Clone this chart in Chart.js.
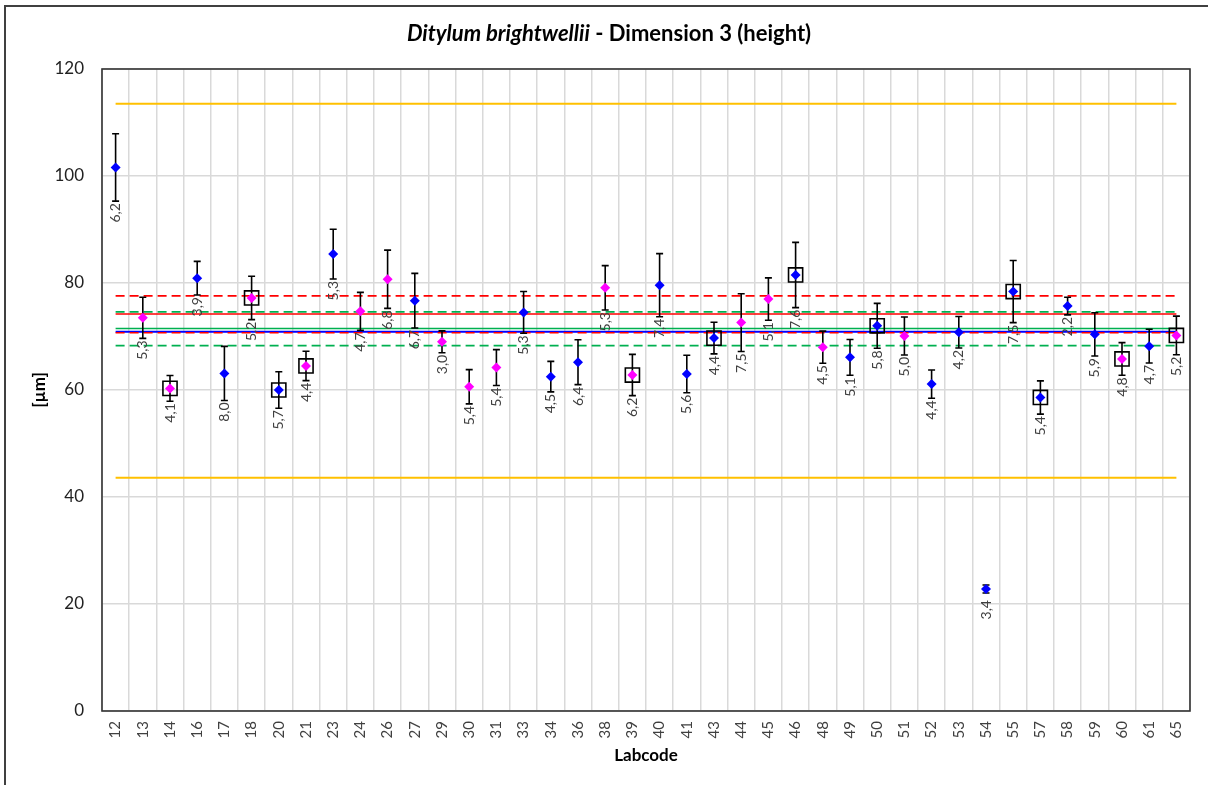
<!DOCTYPE html>
<html>
<head>
<meta charset="utf-8">
<script src="https://cdn.jsdelivr.net/npm/chart.js@4.4.0/dist/chart.umd.min.js"></script>
<style>
  html, body { margin: 0; padding: 0; background: #fff; }
  #wrap { width: 1208px; height: 785px; position: relative; }
</style>
</head>
<body>
<div id="wrap"><canvas id="chart" width="1208" height="785"></canvas></div>
<script>
// Labcodes on the x axis
const labcodes = ['12','13','14','16','17','18','20','21','23','24','26','27','29','30','31','33','34','36','38','39',
                  '40','41','43','44','45','46','48','49','50','51','52','53','54','55','57','58','59','60','61','65'];

// mean height per lab (µm)
const means = [101.6, 73.5, 60.3, 80.9, 63.1, 77.2, 60.0, 64.5, 85.4, 74.7, 80.7, 76.7, 69.0, 60.6, 64.2, 74.5, 62.5, 65.2, 79.1, 62.8,
               79.6, 63.0, 69.7, 72.6, 77.0, 81.5, 68.0, 66.1, 72.0, 70.1, 61.1, 70.8, 22.8, 78.4, 58.6, 75.7, 70.4, 65.8, 68.2, 70.2];

// standard deviation (error bar half length)
const sds = [6.3, 3.85, 2.4, 3.15, 5.05, 4.05, 3.4, 2.75, 4.65, 3.55, 5.45, 5.1, 2.05, 3.2, 3.35, 3.9, 2.85, 4.2, 4.15, 3.85,
             5.9, 3.5, 2.95, 5.4, 3.95, 6.1, 3.0, 3.35, 4.2, 3.55, 2.65, 2.95, 0.75, 5.8, 3.1, 1.65, 4.05, 3.05, 3.15, 3.6];

// CV labels printed under each bar
const cvLabels = ['6,2','5,3','4,1','3,9','8,0','5,2','5,7','4,4','5,3','4,7','6,8','6,7','3,0','5,4','5,4','5,3','4,5','6,4','5,3','6,2',
                  '7,4','5,6','4,4','7,5','5,1','7,6','4,5','5,1','5,8','5,0','4,4','4,2','3,4','7,5','5,4','2,2','5,9','4,8','4,7','5,2'];

// labs drawn in magenta, and labs with a square around the point
const magentaLabs = ['13','14','18','21','24','26','29','30','31','38','39','44','45','48','51','60','65'];
const boxedLabs = ['14','18','20','21','39','43','46','50','55','57','60','65'];

// horizontal reference lines
const yellowHigh = 113.5;
const yellowLow = 43.6;
const redMean = 74.2;
const redHigh = 77.6;
const redLow = 70.7;
const greenMean = 71.5;
const greenHigh = 74.6;
const greenLow = 68.3;
const blueMean = 70.9;

const yTicks = [0, 20, 40, 60, 80, 100, 120];

const FONT = 'Lato, "Open Sans", sans-serif';
const flat = v => labcodes.map(() => v);
const refLine = (v, color, dash, width) => ({
  data: flat(v), borderColor: color, borderWidth: width || 1.5, borderDash: dash || [],
  pointRadius: 0, fill: false, order: 10
});

const errorBars = {
  id: 'errorBars',
  beforeDatasetDraw(chart, args) {
    if (args.index !== 0) return;
    const ctx = chart.ctx, x = chart.scales.x, y = chart.scales.y;
    ctx.save();
    ctx.strokeStyle = '#000';
    ctx.lineWidth = 1.6;
    means.forEach((m, i) => {
      const px = x.getPixelForValue(i);
      const top = y.getPixelForValue(m + sds[i]);
      const bot = y.getPixelForValue(m - sds[i]);
      ctx.beginPath();
      ctx.moveTo(px, top); ctx.lineTo(px, bot);
      ctx.moveTo(px - 3.5, top); ctx.lineTo(px + 3.5, top);
      ctx.moveTo(px - 3.5, bot); ctx.lineTo(px + 3.5, bot);
      ctx.stroke();
    });
    ctx.restore();
  },
  afterDatasetsDraw(chart) {
    const ctx = chart.ctx, x = chart.scales.x, y = chart.scales.y;
    ctx.save();
    ctx.fillStyle = '#404040';
    ctx.font = '14px ' + FONT;
    ctx.textAlign = 'right';
    ctx.textBaseline = 'middle';
    cvLabels.forEach((t, i) => {
      const px = x.getPixelForValue(i);
      const bot = Math.max(y.getPixelForValue(means[i] - sds[i]) + 2, y.getPixelForValue(means[i]) + 11);
      ctx.save();
      ctx.translate(px, bot);
      ctx.rotate(-Math.PI / 2);
      ctx.fillText(t, 0, 0);
      ctx.restore();
    });
    ctx.restore();
  }
};

const frame = {
  id: 'frame',
  beforeDraw(chart) {
    const ctx = chart.ctx;
    ctx.save();
    ctx.fillStyle = '#fff';
    ctx.fillRect(0, 0, chart.width, chart.height);
    ctx.restore();
  },
  afterDraw(chart) {
    const ctx = chart.ctx, a = chart.chartArea;
    ctx.save();
    ctx.strokeStyle = '#404040';
    ctx.lineWidth = 2;
    ctx.strokeRect(5, 6, 1300, 900);
    ctx.strokeStyle = '#333';
    ctx.lineWidth = 1.6;
    ctx.strokeRect(a.left, a.top, a.right - a.left, a.bottom - a.top);

    // title
    ctx.fillStyle = '#000';
    ctx.textBaseline = 'middle';
    const t1 = 'Ditylum brightwellii', t2 = ' - Dimension 3 (height)';
    ctx.font = 'italic bold 22px ' + FONT;
    const w1 = ctx.measureText(t1).width;
    ctx.font = 'bold 22px ' + FONT;
    const w2 = ctx.measureText(t2).width;
    let sx = 609 - (w1 + w2) / 2;
    ctx.textAlign = 'left';
    ctx.font = 'italic bold 22px ' + FONT;
    ctx.fillText(t1, sx, 34);
    ctx.font = 'bold 22px ' + FONT;
    ctx.fillText(t2, sx + w1, 34);

    // axis titles
    ctx.font = 'bold 17px ' + FONT;
    ctx.textAlign = 'center';
    ctx.fillText('Labcode', (a.left + a.right) / 2, 756);
    ctx.save();
    ctx.translate(40, (a.top + a.bottom) / 2);
    ctx.rotate(-Math.PI / 2);
    ctx.fillText('[µm]', 0, 0);
    ctx.restore();
    ctx.restore();
  }
};

new Chart(document.getElementById('chart'), {
  type: 'line',
  data: {
    labels: labcodes,
    datasets: [
      {
        data: means,
        showLine: false,
        pointStyle: 'rectRot',
        pointRadius: 5,
        pointHoverRadius: 5,
        pointBorderWidth: 0,
        pointBackgroundColor: labcodes.map(l => magentaLabs.includes(l) ? '#FF00FF' : '#0000FF'),
        pointBorderColor: labcodes.map(l => magentaLabs.includes(l) ? '#FF00FF' : '#0000FF'),
        order: 1
      },
      {
        data: labcodes.map((l, i) => boxedLabs.includes(l) ? means[i] : null),
        showLine: false,
        pointStyle: 'rect',
        pointRadius: 10,
        pointHoverRadius: 10,
        pointBackgroundColor: 'rgba(0,0,0,0)',
        pointBorderColor: '#000',
        pointBorderWidth: 1.6,
        order: 2
      },
      refLine(yellowHigh, '#FFC000', [], 2),
      refLine(yellowLow, '#FFC000', [], 2),
      refLine(redHigh, '#FF0000', [9, 5], 1.6),
      refLine(redLow, '#FF0000', [9, 5], 1.6),
      refLine(greenHigh, '#00B050', [9, 5], 1.6),
      refLine(greenLow, '#00B050', [9, 5], 1.6),
      refLine(redMean, '#FF0000', [], 1.6),
      refLine(greenMean, '#00B050', [], 1.6),
      refLine(blueMean, '#0000FF', [], 2)
    ]
  },
  options: {
    responsive: false,
    animation: false,
    devicePixelRatio: 1,
    layout: { padding: { left: 0, top: 69, right: 18, bottom: 0 } },
    plugins: { legend: { display: false }, tooltip: { enabled: false }, title: { display: false } },
    scales: {
      x: {
        offset: true,
        grid: { offset: true, color: '#D9D9D9', lineWidth: 1.5, drawTicks: false },
        border: { display: false },
        ticks: { maxRotation: 90, minRotation: 90, padding: 10, color: '#404040', font: { family: FONT, size: 15 }, autoSkip: false },
        afterFit(s) { s.height = 74; }
      },
      y: {
        min: 0, max: 120,
        afterBuildTicks(s) { s.ticks = yTicks.map(v => ({ value: v })); },
        grid: { color: '#D9D9D9', lineWidth: 1.5, drawTicks: false },
        border: { display: false },
        ticks: { padding: 18, color: '#222', font: { family: FONT, size: 17 } },
        afterFit(s) { s.width = 102; }
      }
    }
  },
  plugins: [frame, errorBars]
});
</script>
</body>
</html>
